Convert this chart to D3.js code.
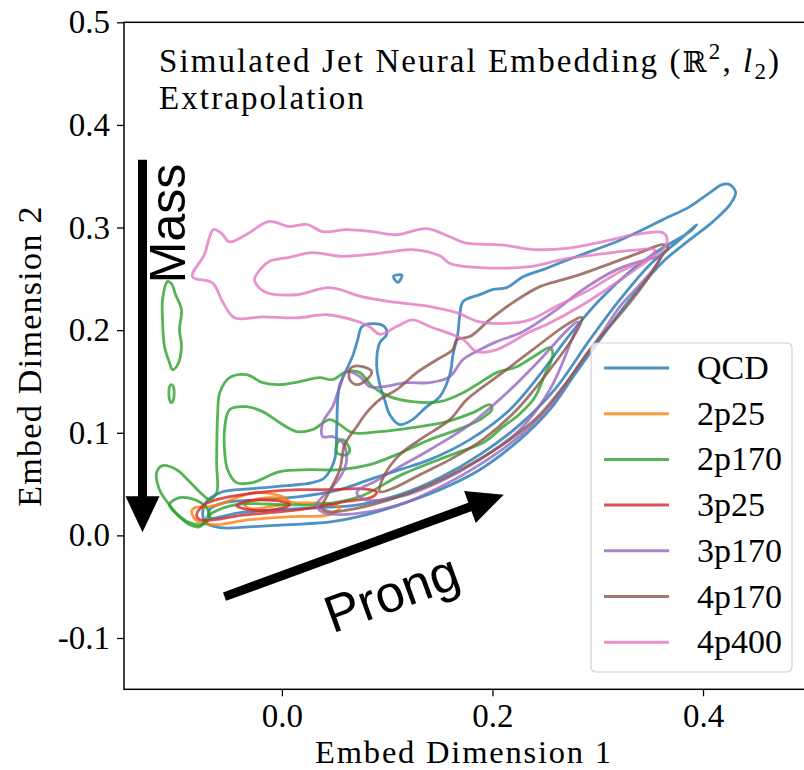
<!DOCTYPE html>
<html>
<head>
<meta charset="utf-8">
<script src="https://cdn.jsdelivr.net/npm/d3@7"></script>
<style>
  body { margin: 0; background: #fff; }
  svg { display: block; }
  .tick text { font-family: "Liberation Serif", serif; font-size: 33px; fill: #000; }
  .tick line { stroke: #000; stroke-width: 1.3; }
</style>
</head>
<body>
<svg id="chart" width="804" height="770"></svg>
<script>
const categories = ['QCD', '2p25', '2p170', '3p25', '3p170', '4p170', '4p400'];
const colors = ['#1f77b4', '#ff7f0e', '#2ca02c', '#d62728', '#9467bd', '#8c564b', '#e377c2'];
const xTicks = [0.0, 0.2, 0.4];
const yTicks = [-0.1, 0.0, 0.1, 0.2, 0.3, 0.4, 0.5];

// contour rings per class, [embed dim 1, embed dim 2]
const qcd = [
  [[-0.0735,0.0134],[-0.059,0.0075],[-0.028,0.0085],[0.007,0.0104],[0.048,0.0134],[0.0805,0.0202],[0.112,0.030],[0.150,0.0445],[0.188,0.064],[0.226,0.0933],[0.2545,0.1225],[0.278,0.1566],[0.302,0.1907],[0.3305,0.2297],[0.362,0.2667],[0.3875,0.2882],[0.4095,0.3058],[0.4255,0.3223],[0.431,0.334],[0.4255,0.3418],[0.418,0.3418],[0.4065,0.334],[0.3875,0.3204],[0.362,0.3077],[0.343,0.298],[0.318,0.2862],[0.2925,0.2765],[0.267,0.2667],[0.248,0.259],[0.229,0.252],[0.2135,0.2414],[0.200,0.2395],[0.188,0.2346],[0.172,0.2278],[0.169,0.2151],[0.167,0.1956],[0.1625,0.1761],[0.1595,0.1566],[0.150,0.1352],[0.1375,0.1254],[0.124,0.1128],[0.112,0.1079],[0.1025,0.1176],[0.0975,0.1323],[0.093,0.1469],[0.090,0.1664],[0.093,0.1878],[0.0995,0.1956],[0.0975,0.2034],[0.086,0.2063],[0.076,0.2034],[0.072,0.1907],[0.067,0.1742],[0.0605,0.1596],[0.055,0.1469],[0.053,0.1323],[0.052,0.103],[0.050,0.0738],[0.0405,0.0562],[0.029,0.0514],[0.0045,0.0484],[-0.028,0.0455],[-0.059,0.0416],[-0.0735,0.0299]],
  [[-0.0687,0.0173],[-0.040,0.0221],[-0.002,0.025],[0.036,0.027],[0.074,0.030],[0.112,0.0397],[0.150,0.0562],[0.188,0.0787],[0.226,0.1079],[0.259,0.142],[0.2925,0.1907],[0.321,0.2297],[0.3495,0.2638],[0.378,0.2882],[0.394,0.3028],[0.3875,0.296],[0.359,0.2785],[0.3305,0.257],[0.302,0.2297],[0.2735,0.1956],[0.245,0.1566],[0.2165,0.1225],[0.1785,0.0933],[0.1405,0.0738],[0.112,0.064],[0.083,0.0543],[0.055,0.0445],[0.0168,0.0377],[-0.021,0.0348],[-0.0545,0.0319],[-0.0687,0.025]],
  [[0.106,0.2525],[0.114,0.2535],[0.110,0.2465]]
];
const p2p25 = [
  [[-0.0858,0.0231],[-0.0801,0.0134],[-0.064,0.0104],[-0.0307,0.0153],[0.0073,0.0182],[0.0454,0.0202],[0.055,0.027],[0.0454,0.0309],[0.0073,0.0328],[0.0007,0.0377],[-0.0241,0.0416],[-0.0402,0.0377],[-0.0545,0.0319],[-0.0687,0.028],[-0.083,0.027]],
  [[-0.0355,0.0299],[-0.0212,0.0358],[0.0007,0.0358],[0.0073,0.0319],[-0.0117,0.028],[-0.0307,0.026]]
];
const p2p170 = [
  [[-0.119,0.0611],[-0.1134,0.068],[-0.100,0.064],[-0.0877,0.0523],[-0.0754,0.0397],[-0.0687,0.0348],[-0.062,0.0416],[-0.062,0.0709],[-0.061,0.1196],[-0.059,0.1391],[-0.0497,0.1537],[-0.0336,0.1566],[-0.0183,0.1488],[-0.002,0.1469],[0.0168,0.1498],[0.0358,0.1537],[0.048,0.1518],[0.0615,0.1596],[0.074,0.1586],[0.086,0.1449],[0.1024,0.1352],[0.124,0.1303],[0.150,0.1303],[0.172,0.1391],[0.188,0.1488],[0.204,0.1586],[0.223,0.1644],[0.242,0.1761],[0.2545,0.1829],[0.2573,0.1761],[0.2497,0.1566],[0.240,0.1342],[0.225,0.1176],[0.209,0.105],[0.1927,0.0913],[0.1614,0.0787],[0.1138,0.0592],[0.074,0.0377],[0.0358,0.0299],[0.0045,0.0299],[-0.043,0.0299],[-0.0687,0.0202],[-0.078,0.0085],[-0.0877,0.0104],[-0.0973,0.0182],[-0.107,0.0299],[-0.1163,0.0445]],
  [[-0.0497,0.1225],[-0.0336,0.1254],[-0.0183,0.1206],[-0.002,0.1098],[0.014,0.1011],[0.029,0.103],[0.0454,0.1128],[0.055,0.1079],[0.067,0.1001],[0.093,0.1011],[0.124,0.105],[0.1566,0.1108],[0.1813,0.1196],[0.1975,0.1274],[0.1994,0.1225],[0.188,0.1128],[0.172,0.105],[0.1405,0.0933],[0.109,0.0787],[0.0834,0.0689],[0.055,0.064],[0.0263,0.064],[-0.002,0.0621],[-0.028,0.0514],[-0.043,0.0514],[-0.0516,0.064],[-0.0545,0.0835],[-0.0545,0.103]],
  [[-0.107,0.0299],[-0.0973,0.0367],[-0.083,0.0348],[-0.0716,0.027],[-0.0687,0.0173],[-0.0754,0.0104],[-0.0877,0.0124],[-0.0992,0.0202]],
  [[0.053,0.0904],[0.052,0.0806],[0.0615,0.0787],[0.0644,0.0835],[0.0577,0.0933]],
  [[-0.1087,0.2473],[-0.1134,0.2297],[-0.1134,0.210],[-0.1115,0.1839],[-0.1068,0.1683],[-0.104,0.1615],[-0.099,0.1664],[-0.0954,0.1839],[-0.0973,0.2005],[-0.0954,0.220],[-0.101,0.2346],[-0.105,0.2453]],
  [[-0.1068,0.1449],[-0.105,0.1469],[-0.103,0.1449],[-0.103,0.1323],[-0.105,0.1293],[-0.1068,0.1323]]
];
const p3p25 = [
  [[-0.081,0.0202],[-0.0735,0.0299],[-0.062,0.0348],[-0.0374,0.0397],[-0.0145,0.0426],[0.0168,0.0445],[0.0454,0.0445],[0.074,0.0455],[0.090,0.0426],[0.0862,0.0377],[0.0596,0.0328],[0.0454,0.0299],[0.0168,0.025],[-0.0117,0.0221],[-0.0402,0.0192],[-0.064,0.0153],[-0.078,0.0153]],
  [[-0.043,0.0289],[-0.0307,0.0338],[0.0007,0.0328],[0.0073,0.0299],[-0.0069,0.025],[-0.0307,0.025]]
];
const p3p170 = [
  [[0.033,0.0299],[0.0387,0.0377],[0.0482,0.0475],[0.0577,0.0611],[0.0615,0.0738],[0.0577,0.0904],[0.0482,0.0962],[0.0387,0.0962],[0.0387,0.1098],[0.0482,0.1254],[0.055,0.1449],[0.0615,0.1596],[0.074,0.1547],[0.0834,0.1449],[0.0957,0.1449],[0.1186,0.1488],[0.1405,0.1488],[0.1595,0.1547],[0.1718,0.1712],[0.188,0.181],[0.204,0.1888],[0.2288,0.1985],[0.261,0.220],[0.2858,0.2395],[0.318,0.259],[0.3467,0.2687],[0.3591,0.2707],[0.354,0.2609],[0.340,0.2443],[0.321,0.223],[0.302,0.194],[0.278,0.160],[0.2545,0.126],[0.226,0.097],[0.188,0.069],[0.150,0.047],[0.112,0.0299],[0.0834,0.0231],[0.0549,0.0202],[0.0377,0.0231]],
  [[0.071,0.0416],[0.0786,0.0348],[0.112,0.0377],[0.150,0.0523],[0.188,0.0738],[0.226,0.103],[0.2545,0.142],[0.2735,0.186],[0.281,0.208],[0.2716,0.2005],[0.245,0.171],[0.2117,0.137],[0.1785,0.108],[0.1405,0.0835],[0.1071,0.064],[0.088,0.0523],[0.076,0.0465]]
];
const p4p170 = [
  [[0.0377,0.027],[0.0425,0.0377],[0.0549,0.064],[0.0596,0.0884],[0.071,0.1059],[0.0805,0.1196],[0.0929,0.1323],[0.109,0.142],[0.1281,0.1586],[0.1471,0.1712],[0.1623,0.181],[0.1661,0.1907],[0.1785,0.1937],[0.1975,0.2102],[0.2193,0.2268],[0.245,0.2424],[0.2668,0.2492],[0.283,0.2541],[0.3144,0.2658],[0.340,0.2755],[0.3619,0.2833],[0.3667,0.2804],[0.3619,0.2736],[0.3467,0.2492],[0.3305,0.2268],[0.3144,0.2073],[0.2925,0.181],[0.2687,0.1469],[0.245,0.1176],[0.2165,0.0933],[0.1785,0.0689],[0.1405,0.0494],[0.1024,0.0348],[0.0644,0.025],[0.0454,0.0231]],
  [[0.093,0.0426],[0.0976,0.0592],[0.112,0.0787],[0.131,0.0933],[0.1595,0.1128],[0.1756,0.1323],[0.207,0.1566],[0.2383,0.181],[0.2706,0.2054],[0.2849,0.2122],[0.2782,0.1956],[0.2545,0.1615],[0.2231,0.1225],[0.1908,0.0933],[0.1595,0.0738],[0.131,0.0592],[0.1071,0.0465]],
  [[0.0644,0.1615],[0.0672,0.1644],[0.0767,0.1644],[0.0853,0.1596],[0.0805,0.1518],[0.071,0.1469],[0.0644,0.1518]]
];
const p4p400 = [
  [[-0.085,0.252],[-0.0735,0.274],[-0.069,0.290],[-0.065,0.298],[-0.057,0.294],[-0.050,0.286],[-0.034,0.293],[-0.012,0.306],[0.007,0.301],[0.0235,0.303],[0.039,0.296],[0.0615,0.298],[0.086,0.296],[0.109,0.293],[0.1375,0.299],[0.1595,0.291],[0.174,0.285],[0.209,0.283],[0.240,0.2785],[0.2725,0.280],[0.304,0.286],[0.335,0.293],[0.362,0.295],[0.366,0.288],[0.362,0.2785],[0.3465,0.267],[0.3145,0.244],[0.283,0.223],[0.2515,0.2055],[0.2355,0.1985],[0.204,0.181],[0.185,0.179],[0.172,0.191],[0.1405,0.2035],[0.124,0.210],[0.109,0.2035],[0.093,0.196],[0.083,0.2035],[0.067,0.210],[0.0425,0.215],[0.014,0.212],[-0.018,0.213],[-0.045,0.212],[-0.056,0.227],[-0.066,0.246]],
  [[-0.026,0.249],[-0.019,0.261],[-0.012,0.267],[0.007,0.271],[0.029,0.2755],[0.055,0.272],[0.0805,0.2735],[0.105,0.2765],[0.124,0.2785],[0.150,0.2725],[0.1595,0.265],[0.188,0.261],[0.2355,0.262],[0.267,0.269],[0.305,0.2745],[0.340,0.2785],[0.354,0.2785],[0.3495,0.271],[0.321,0.257],[0.2925,0.2395],[0.264,0.225],[0.2355,0.210],[0.219,0.207],[0.188,0.208],[0.166,0.217],[0.1405,0.223],[0.109,0.227],[0.0765,0.2325],[0.045,0.2415],[0.014,0.2345],[-0.0165,0.2375]]
];
const contourSets = [qcd, p2p25, p2p170, p3p25, p3p170, p4p170, p4p400];

// annotation arrows, [start, tip]
const massArrow = [[-0.1324, 0.366], [-0.1324, 0.003]];
const prongArrow = [[-0.0545, -0.0597], [0.2107, 0.0397]];

const svg = d3.select('#chart');

const x = d3.scaleLinear().domain([-0.15, 0.5]).range([124, 808.3]);
const y = d3.scaleLinear().domain([-0.15, 0.5]).range([689.3, 22.3]);

svg.append('defs').append('clipPath')
  .attr('id', 'plot-clip')
  .append('rect')
  .attr('x', x(-0.15)).attr('y', y(0.5))
  .attr('width', x(0.5) - x(-0.15)).attr('height', y(-0.15) - y(0.5));

const plot = svg.append('g').attr('clip-path', 'url(#plot-clip)');

const line = d3.line()
  .x(d => x(d[0]))
  .y(d => y(d[1]))
  .curve(d3.curveCatmullRomClosed.alpha(0.5));

contourSets.forEach((rings, i) => {
  plot.append('g')
    .selectAll('path')
    .data(rings)
    .join('path')
    .attr('d', line)
    .attr('fill', 'none')
    .attr('stroke', colors[i])
    .attr('stroke-opacity', 0.8)
    .attr('stroke-width', 2.8)
    .attr('stroke-linejoin', 'round');
});

// arrows
function drawArrow(pts) {
  const x0 = x(pts[0][0]), y0 = y(pts[0][1]);
  const x1 = x(pts[1][0]), y1 = y(pts[1][1]);
  const len = Math.hypot(x1 - x0, y1 - y0);
  const ux = (x1 - x0) / len, uy = (y1 - y0) / len;
  const headLen = 36, headHalf = 17;
  const bx = x1 - ux * headLen, by = y1 - uy * headLen;
  svg.append('line')
    .attr('x1', x0).attr('y1', y0)
    .attr('x2', bx + ux * 2).attr('y2', by + uy * 2)
    .attr('stroke', '#000')
    .attr('stroke-width', 9);
  svg.append('path')
    .attr('d', `M${x1},${y1}L${bx - uy * headHalf},${by + ux * headHalf}L${bx + uy * headHalf},${by - ux * headHalf}Z`)
    .attr('fill', '#000');
}
drawArrow(massArrow);
drawArrow(prongArrow);

svg.append('text')
  .attr('transform', `translate(${x(-0.0925)},${y(0.304)}) rotate(-90)`)
  .attr('text-anchor', 'middle')
  .style('font-family', '"Liberation Sans", Arial, sans-serif')
  .style('font-size', '50px')
  .text('Mass');

svg.append('text')
  .attr('transform', `translate(${x(0.110)},${y(-0.0726)}) rotate(-20)`)
  .attr('text-anchor', 'middle')
  .style('font-family', '"Liberation Sans", Arial, sans-serif')
  .style('font-size', '52px')
  .text('Prong');

// frame
svg.append('rect')
  .attr('x', x(-0.15)).attr('y', y(0.5))
  .attr('width', x(0.5) - x(-0.15)).attr('height', y(-0.15) - y(0.5))
  .attr('fill', 'none')
  .attr('stroke', '#000')
  .attr('stroke-width', 1.5);

// axes
const fmt = d => d.toFixed(1);
const yAxis = svg.append('g')
  .attr('transform', `translate(${x(-0.15)},0)`)
  .call(d3.axisLeft(y).tickValues(yTicks).tickFormat(fmt).tickSize(7).tickPadding(7).tickSizeOuter(0));
const xAxis = svg.append('g')
  .attr('transform', `translate(0,${y(-0.15)})`)
  .call(d3.axisBottom(x).tickValues(xTicks).tickFormat(fmt).tickSize(7).tickPadding(7).tickSizeOuter(0));
yAxis.select('.domain').remove();
xAxis.select('.domain').remove();

// axis labels
svg.append('text')
  .attr('x', 464).attr('y', 763)
  .attr('text-anchor', 'middle')
  .style('font-family', '"Liberation Serif", serif')
  .style('font-size', '32.5px')
  .style('letter-spacing', '1.8px')
  .text('Embed Dimension 1');

svg.append('text')
  .attr('transform', 'translate(41,356) rotate(-90)')
  .attr('text-anchor', 'middle')
  .style('font-family', '"Liberation Serif", serif')
  .style('font-size', '34px')
  .style('letter-spacing', '1.3px')
  .text('Embed Dimension 2');

// title
const title = svg.append('text')
  .attr('x', 159).attr('y', 72)
  .style('font-family', '"Liberation Serif", serif')
  .style('font-size', '33px')
  .style('letter-spacing', '2.1px');
title.append('tspan').text('Simulated Jet Neural Embedding (');
title.append('tspan').style('font-family', '"DejaVu Serif", serif').style('font-size', '29px').text('ℝ');
title.append('tspan').attr('dy', -13).style('font-size', '23px').text('2');
title.append('tspan').attr('dy', 13).text(', ');
title.append('tspan').style('font-style', 'italic').text('l');
title.append('tspan').attr('dy', 7).style('font-size', '23px').text('2');
title.append('tspan').attr('dy', -7).text(')');

svg.append('text')
  .attr('x', 159).attr('y', 109)
  .style('font-family', '"Liberation Serif", serif')
  .style('font-size', '33px')
  .style('letter-spacing', '2.1px')
  .text('Extrapolation');

// legend
const legend = svg.append('g');
legend.append('rect')
  .attr('x', 591).attr('y', 343)
  .attr('width', 201).attr('height', 329)
  .attr('rx', 5)
  .attr('fill', '#fff').attr('fill-opacity', 0.8)
  .attr('stroke', '#d0d0d0').attr('stroke-width', 1.2);

const rows = legend.selectAll('g.row')
  .data(categories)
  .join('g')
  .attr('class', 'row')
  .attr('transform', (d, i) => `translate(0,${368 + i * 45.7})`);
rows.append('line')
  .attr('x1', 604).attr('x2', 669)
  .attr('stroke', (d, i) => colors[i])
  .attr('stroke-opacity', 0.8)
  .attr('stroke-width', 3);
rows.append('text')
  .attr('x', 697).attr('y', 11)
  .style('font-family', '"Liberation Serif", serif')
  .style('font-size', '34px')
  .text(d => d);
</script>
</body>
</html>
